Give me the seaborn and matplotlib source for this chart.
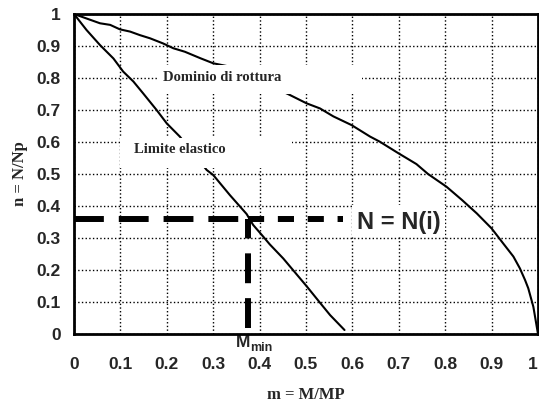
import matplotlib
matplotlib.use("Agg")
import matplotlib.pyplot as plt
import seaborn as sns
from matplotlib.patches import Rectangle

# ---- data ----
m_rottura = [0.0, 0.027, 0.056, 0.078, 0.099, 0.121, 0.142, 0.164, 0.192, 0.214,
             0.239, 0.272, 0.300, 0.329, 0.461, 0.501, 0.530, 0.559, 0.598, 0.638,
             0.659, 0.699, 0.738, 0.763, 0.803, 0.836, 0.868, 0.900, 0.925, 0.947,
             0.961, 0.972, 0.979, 0.990, 1.0]
n_rottura = [1.0, 0.986, 0.971, 0.966, 0.952, 0.945, 0.934, 0.924, 0.908, 0.893,
             0.882, 0.862, 0.846, 0.8375, 0.750, 0.721, 0.705, 0.680, 0.653, 0.617,
             0.601, 0.565, 0.531, 0.500, 0.460, 0.419, 0.377, 0.330, 0.283, 0.242,
             0.205, 0.169, 0.143, 0.085, 0.0]

m_elastico = [0.0, 0.027, 0.056, 0.085, 0.106, 0.128, 0.149, 0.178, 0.200, 0.228,
              0.286, 0.300, 0.336, 0.361, 0.372, 0.386, 0.408, 0.422, 0.451, 0.469,
              0.501, 0.530, 0.552, 0.583]
n_elastico = [1.0, 0.950, 0.903, 0.861, 0.820, 0.789, 0.752, 0.700, 0.658, 0.617,
              0.5125, 0.497, 0.434, 0.393, 0.375, 0.341, 0.304, 0.280, 0.236, 0.205,
              0.150, 0.098, 0.059, 0.0125]

n_i = 0.358          # level N = N(i)
m_min = 0.375        # M_min
m_line_end = 0.58    # end of the horizontal dashed line
n_line_bottom = 0.02 # bottom of the vertical dashed line

ticks = [0, 0.1, 0.2, 0.3, 0.4, 0.5, 0.6, 0.7, 0.8, 0.9, 1.0]
tick_labels = ["0", "0.1", "0.2", "0.3", "0.4", "0.5", "0.6", "0.7", "0.8", "0.9", "1"]

sns.set_style("white")
plt.rcParams['font.family'] = ['Liberation Sans', 'DejaVu Sans']

fig = plt.figure(figsize=(5.39, 4.03), dpi=100)
ax = fig.add_axes([74 / 539, 69 / 403, 464 / 539, 320 / 403])

sns.lineplot(x=m_rottura, y=n_rottura, sort=False, estimator=None,
             color='black', linewidth=1.5, ax=ax, zorder=2)
sns.lineplot(x=m_elastico, y=n_elastico, sort=False, estimator=None,
             color='black', linewidth=1.5, ax=ax, zorder=2)

# dashed construction lines
ax.plot([0, m_min], [n_i, n_i], color='black', linewidth=4.3,
        dashes=(5, 2.5), dash_capstyle='butt', zorder=3)
ax.plot([m_min, m_line_end], [n_i, n_i], color='black', linewidth=4.3,
        dashes=(2.7, 2.3), dash_capstyle='butt', zorder=3)
ax.plot([m_min, m_min], [n_line_bottom, n_i], color='black', linewidth=4.3,
        dashes=(5, 2.5), dash_capstyle='butt', zorder=3)

ax.set_xlim(0, 1)
ax.set_ylim(0, 1)
ax.set_xticks(ticks)
ax.set_yticks(ticks)
ax.set_xticklabels(tick_labels, fontweight='bold', fontsize=12.5)
ax.set_yticklabels(tick_labels, fontweight='bold', fontsize=12.5)
ax.get_xticklabels()[-1].set_horizontalalignment('right')
ax.tick_params(axis='both', direction='inout', length=9, width=1.5, color='black')
ax.tick_params(axis='x', pad=12)
ax.tick_params(axis='y', pad=5)

ax.grid(True, color='black', linestyle=':', linewidth=1.0)
ax.set_axisbelow(True)
for s in ax.spines.values():
    s.set_color('black')
    s.set_linewidth(2)
    s.set_visible(True)
    s.set_zorder(6)

serif = ['Liberation Serif', 'DejaVu Serif']
ax.set_xlabel("m = M/MP", family=serif, fontweight='bold', fontsize=12, labelpad=11)
ax.set_ylabel("n = N/Np", family=serif, fontweight='bold', fontsize=12, labelpad=6)

# white text boxes
ax.add_patch(Rectangle((0.179, 0.75), 0.441, 0.09, facecolor='white',
                       edgecolor='none', zorder=4))
ax.text(0.192, 0.80, "Dominio di rottura", family=serif, fontweight='bold',
        fontsize=10.5, ha='left', va='center', zorder=5)

ax.add_patch(Rectangle((0.10, 0.519), 0.37, 0.093, facecolor='white',
                       edgecolor='none', zorder=4))
ax.text(0.129, 0.575, "Limite elastico", family=serif, fontweight='bold',
        fontsize=10.5, ha='left', va='center', zorder=5)

ax.add_patch(Rectangle((0.60, 0.303), 0.20, 0.10, facecolor='white',
                       edgecolor='none', zorder=4))
ax.text(0.61, 0.35, "N = N(i)", fontweight='bold', fontsize=17,
        ha='left', va='center', zorder=5)

# M_min label under the axis
ax.text(0.349, -0.027, "M", fontweight='bold', fontsize=12.5, ha='left',
        va='center', clip_on=False, zorder=5)
ax.text(0.380, -0.045, "min", fontweight='bold', fontsize=9, ha='left', va='center',
        clip_on=False, zorder=5)

fig.savefig("out.png", dpi=100)
